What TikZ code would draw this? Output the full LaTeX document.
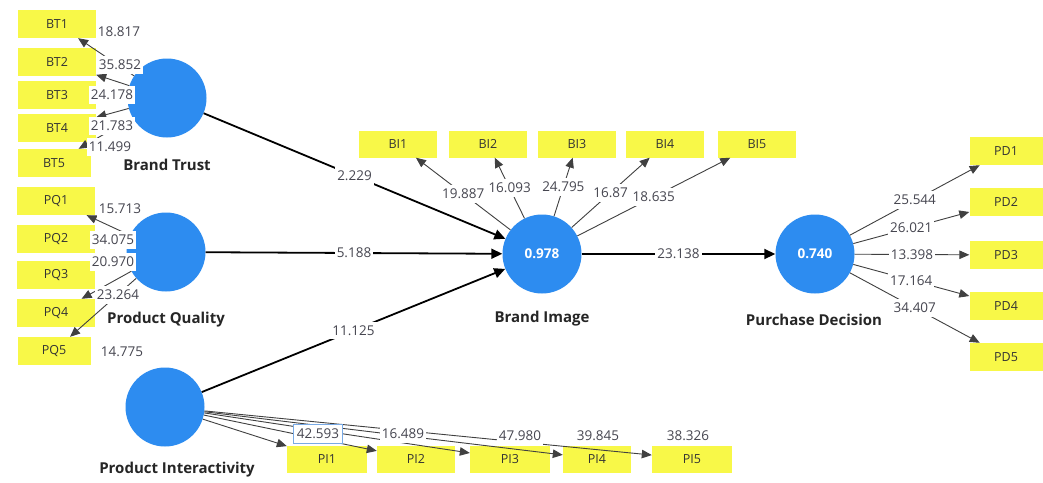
\documentclass[tikz,border=0pt]{standalone}
\usepackage{fontspec}
\setmainfont{Open Sans}
\usetikzlibrary{arrows.meta}
\definecolor{lvblue}{RGB}{45,140,240}
\definecolor{indyel}{RGB}{248,248,72}
\definecolor{numgray}{RGB}{70,70,80}
\definecolor{selblue}{RGB}{120,170,230}
\begin{document}
\begin{tikzpicture}[x=1pt,y=-1pt,
 lv/.style={circle,fill=lvblue,minimum size=79pt,inner sep=0pt,font=\fontsize{13.5}{15}\selectfont\bfseries,text=white},
 ind/.style={fill=indyel,minimum width=78pt,minimum height=28pt,inner sep=0pt,font=\fontsize{12.5}{14}\selectfont,text=black!80},
 lvname/.style={font=\fontsize{15}{17}\selectfont\bfseries,text=black!85},
 num/.style={fill=white,inner xsep=2pt,inner ysep=4pt,font=\fontsize{13.5}{15}\selectfont,text=numgray},
 structpath/.style={draw=black,line width=1.8pt,-{Triangle[length=11pt,width=10pt]}},
 loading/.style={draw=black!75,line width=0.9pt,-{Triangle[length=10pt,width=8.5pt]}},
]
\useasboundingbox[fill=white] (0,0) rectangle (1043,482);

% latent variables
\node[lv] (bt) at (167,98) {};
\node[lv] (pq) at (166,252) {};
\node[lv] (pi) at (165,407) {};
\node[lv] (bim) at (542,254) {0.978};
\node[lv] (pd) at (815,254) {0.740};

\node[lvname] (btn) at (167,165) {Brand Trust};
\node[lvname] (pqn) at (166,320) {Product Quality};
\node[lvname] (pin) at (177,470) {Product Interactivity};
\node[lvname] (bimn) at (542,319) {Brand Image};
\node[lvname] (pdn) at (814,320) {Purchase Decision};

% indicators
\node[ind] (BT1) at (57,24) {BT1};
\node[ind] (BT2) at (57,62) {BT2};
\node[ind] (BT3) at (57,95) {BT3};
\node[ind] (BT4) at (57,128) {BT4};
\node[ind,minimum width=73pt] (BT5) at (54,163) {BT5};

\node[ind] (PQ1) at (56,201) {PQ1};
\node[ind] (PQ2) at (56,239) {PQ2};
\node[ind] (PQ3) at (56,275) {PQ3};
\node[ind] (PQ4) at (56,313) {PQ4};
\node[ind,minimum width=73pt] (PQ5) at (54,351) {PQ5};

\node[ind,minimum height=27pt] (BI1) at (398,144) {BI1};
\node[ind,minimum height=27pt] (BI2) at (488,144) {BI2};
\node[ind,minimum height=27pt] (BI3) at (577,144) {BI3};
\node[ind,minimum height=27pt] (BI4) at (665,144) {BI4};
\node[ind,minimum height=27pt] (BI5) at (757,144) {BI5};

\node[ind,minimum width=73pt] (PD1) at (1006,151) {PD1};
\node[ind,minimum width=73pt] (PD2) at (1006,202) {PD2};
\node[ind,minimum width=73pt] (PD3) at (1006,255) {PD3};
\node[ind,minimum width=73pt] (PD4) at (1006,306) {PD4};
\node[ind,minimum width=73pt] (PD5) at (1006,357) {PD5};

\node[ind,minimum width=80pt,minimum height=27pt] (PI1) at (327,459) {PI1};
\node[ind,minimum width=78pt,minimum height=27pt] (PI2) at (416,459) {PI2};
\node[ind,minimum width=80pt,minimum height=27pt] (PI3) at (510,459) {PI3};
\node[ind,minimum width=68pt,minimum height=27pt] (PI4) at (597,459) {PI4};
\node[ind,minimum width=80pt,minimum height=27pt] (PI5) at (692,459) {PI5};

% outer loadings (left side, labels placed separately)
\foreach \i in {1,...,5} {
  \draw[loading] (bt) -- (BT\i);
  \draw[loading] (pq) -- (PQ\i);
  \draw[loading] (pi) -- (PI\i);
}

\node[num] (lbt1) at (119,32) {18.817};
\node[num] (lbt2) at (120,65) {35.852};
\node[num] (lbt3) at (112,95) {24.178};
\node[num] (lbt4) at (112,126) {21.783};
\node[num] (lbt5) at (110,147) {11.499};

\node[num] (lpq1) at (120,209) {15.713};
\node[num] (lpq2) at (113,240) {34.075};
\node[num] (lpq3) at (113,262) {20.970};
\node[num] (lpq4) at (118,295) {23.264};
\node[num] (lpq5) at (122,352) {14.775};

\node[num,draw=selblue,line width=1pt,inner xsep=3pt,inner ysep=5pt] (lpi1) at (318,434) {42.593};
\node[num] (lpi2) at (403,434) {16.489};
\node[num] (lpi3) at (520,436) {47.980};
\node[num] (lpi4) at (598,436) {39.845};
\node[num] (lpi5) at (688,436) {38.326};

% outer loadings with midway labels
\draw[loading] (bim) -- node[num] (lbi1) {19.887} (BI1);
\draw[loading] (bim) -- node[num] (lbi2) {16.093} (BI2);
\draw[loading] (bim) -- node[num] (lbi3) {24.795} (BI3);
\draw[loading] (bim) -- node[num] (lbi4) {16.87} (BI4);
\draw[loading] (bim) -- node[num] (lbi5) {18.635} (BI5);

\draw[loading] (pd) -- node[num] (lpd1) {25.544} (PD1);
\draw[loading] (pd) -- node[num] (lpd2) {26.021} (PD2);
\draw[loading] (pd) -- node[num] (lpd3) {13.398} (PD3);
\draw[loading] (pd) -- node[num] (lpd4) {17.164} (PD4);
\draw[loading] (pd) -- node[num] (lpd5) {34.407} (PD5);

% structural paths
\draw[structpath] (bt) -- node[num] (lp1) {2.229} (bim);
\draw[structpath] (pq) -- node[num] (lp2) {5.188} (bim);
\draw[structpath] (pi) -- node[num] (lp3) {11.125} (bim);
\draw[structpath] (bim) -- node[num] (lp4) {23.138} (pd);
\end{tikzpicture}
\end{document}
